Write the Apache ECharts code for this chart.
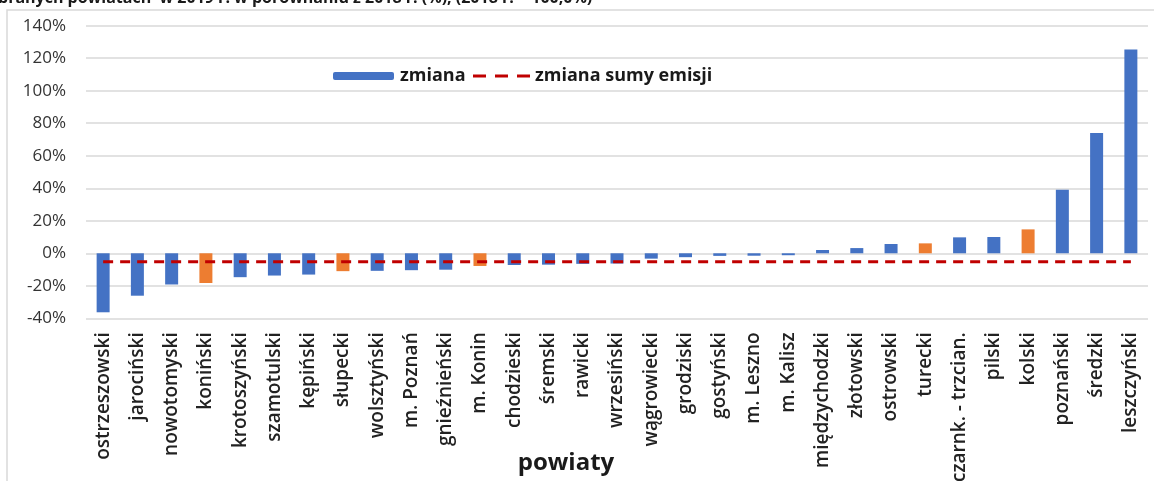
<!DOCTYPE html>
<html>
<head>
<meta charset="utf-8">
<script src="https://cdn.jsdelivr.net/npm/echarts@6/dist/echarts.min.js"></script>
<style>
html,body{margin:0;padding:0;background:#fff;}
#chart{width:1154px;height:481px;}
</style>
</head>
<body>
<div id="chart"></div>
<script>
const categories = ['ostrzeszowski','jarociński','nowotomyski','koniński','krotoszyński','szamotulski','kępiński','słupecki','wolsztyński','m. Poznań','gnieźnieński','m. Konin','chodzieski','śremski','rawicki','wrzesiński','wągrowiecki','grodziski','gostyński','m. Leszno','m. Kalisz','międzychodzki','złotowski','ostrowski','turecki','czarnk. - trzcian.','pilski','kolski','poznański','średzki','leszczyński'];
const zmiana = [-36.3,-26.1,-19.2,-18.3,-14.7,-13.7,-13.1,-11.0,-10.8,-10.4,-10.1,-7.8,-7.2,-7.0,-6.5,-6.3,-3.3,-2.4,-1.6,-1.5,-1.2,2.0,3.2,5.7,6.1,9.8,10.0,14.7,39.1,74.0,125.4];
const highlighted = ['koniński','słupecki','m. Konin','turecki','kolski'];
const zmianaSumyEmisji = -5.2;
const yTicks = {min:-40, max:140, interval:20};
const titleText = 'branych powiatach  w 2019 r. w porównaniu z 2018 r. (%), (2018 r. = 100,0%)';

const BLUE = '#4472C4', ORANGE = '#ED7D31', RED = '#C00000';
const FONT = '"Open Sans", sans-serif';

const barData = zmiana.map((v,i)=>({
  value: v,
  itemStyle: {color: highlighted.includes(categories[i]) ? ORANGE : BLUE}
}));
const lineData = categories.map(()=>zmianaSumyEmisji);

const chart = echarts.init(document.getElementById('chart'));
chart.setOption({
  animation:false,
  backgroundColor:'#fff',
  textStyle:{fontFamily:FONT},
  grid:{left:86, right:6, top:25.7, bottom:162.7, containLabel:false, outerBoundsMode:'none'},
  legend:[
    {data:['zmiana'], left:333, top:67, padding:0, itemWidth:61, itemHeight:8, itemGap:0,
     textStyle:{fontFamily:FONT, fontWeight:'bold', fontSize:18, color:'#1a1a1a', padding:[0,0,0,1]}},
    {data:[{name:'zmiana sumy emisji', icon:'path://M0,0h13v3h-13z M22,0h13v3h-13z M44,0h13v3h-13z'}],
     left:473, top:67, padding:0, itemWidth:57, itemHeight:3,
     textStyle:{fontFamily:FONT, fontWeight:'bold', fontSize:18, color:'#1a1a1a'}}
  ],
  xAxis:{
    type:'category', data:categories,
    axisLine:{show:false, onZero:false}, axisTick:{show:false},
    axisLabel:{rotate:90, interval:0, margin:14, fontFamily:FONT, fontSize:19, fontWeight:600, color:'#222'}
  },
  yAxis:{
    type:'value', min:yTicks.min, max:yTicks.max, interval:yTicks.interval,
    axisLine:{show:false}, axisTick:{show:false},
    splitLine:{lineStyle:{color:'#d9d9d9', width:1.5}},
    axisLabel:{formatter:v=>v+'%', fontFamily:FONT, fontSize:17, color:'#333', margin:20}
  },
  series:[
    {name:'zmiana', type:'bar', data:barData, barWidth:13, itemStyle:{color:BLUE}},
    {name:'zmiana sumy emisji', type:'line', data:lineData, symbol:'none', z:5,
     lineStyle:{color:RED, width:3, type:[10,7]}, itemStyle:{color:RED}}
  ],
  graphic:[
    {type:'rect', shape:{x:7, y:10, width:1150, height:500}, style:{fill:'none', stroke:'#d9d9d9', lineWidth:1.5}, silent:true},
    {type:'text', left:-2, top:-10, style:{text:titleText, font:'bold 16px "Open Sans", sans-serif', fill:'#1a1a1a'}},
    {type:'text', x:566, y:463, style:{text:'powiaty', font:'bold 24px "Open Sans", sans-serif', fill:'#1a1a1a', textAlign:'center', textVerticalAlign:'middle'}}
  ]
});
</script>
</body>
</html>
